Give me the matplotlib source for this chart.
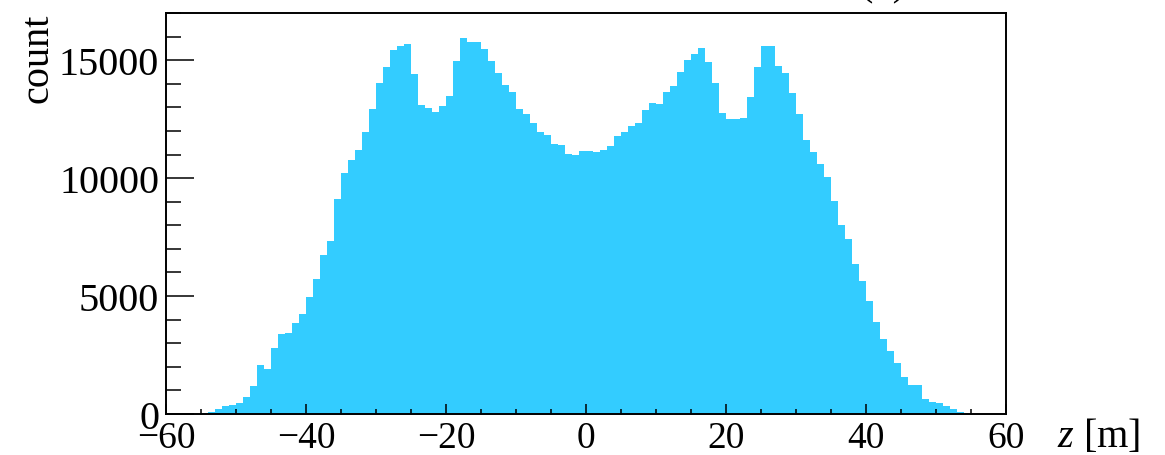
import numpy as np
import matplotlib
matplotlib.use("Agg")
import matplotlib.pyplot as plt
from matplotlib.ticker import MultipleLocator

plt.rcParams['font.family'] = ['Liberation Serif', 'DejaVu Serif']
plt.rcParams['mathtext.fontset'] = 'custom'
plt.rcParams['mathtext.rm'] = 'Liberation Serif'
plt.rcParams['mathtext.it'] = 'Liberation Serif:italic'

# histogram: 1 m bins from -60 to 60
bin_lo = -60
bin_hi = 60
counts = [
    0, 0, 0, 0, 0,                                              # -60 .. -56
    40, 90, 210, 340, 380, 470, 735, 1175, 2080, 1920,          # -55 .. -46
    2790, 3390, 3450, 3860, 4260, 4960, 5730, 6750, 7340, 9120,  # -45 .. -36
    10200, 10750, 11200, 11950, 12920, 14030, 14720, 15440, 15600, 15700,  # -35 .. -26
    14420, 13080, 12970, 12800, 13070, 13480, 14980, 15950, 15790, 15770,  # -25 .. -16
    15460, 14980, 14470, 13930, 13670, 12940, 12730, 12340, 11950, 11840,  # -15 .. -6
    11450, 11400, 11020, 10960, 11140,                          # -5 .. -1
    11170, 11110, 11200, 11380, 11790, 11950, 12220, 12330, 12870, 13180,  # 0 .. 9
    13140, 13670, 13890, 14510, 15020, 15260, 15500, 14920, 14040, 12770,  # 10 .. 19
    12510, 12510, 12560, 13460, 14710, 15580, 15580, 14760, 14470, 13600,  # 20 .. 29
    12730, 11620, 11100, 10590, 10040, 9040, 8020, 7420, 6360, 5630,       # 30 .. 39
    4790, 3920, 3180, 2690, 2160, 1560, 1245, 1230, 640, 520,             # 40 .. 49
    470, 340, 210, 70, 30,                                      # 50 .. 54
    0, 0, 0, 0, 0,                                              # 55 .. 59
]
edges = np.arange(bin_lo, bin_hi + 1, 1)

fig = plt.figure(figsize=(11.65, 4.56), dpi=100)
ax = fig.add_axes([0.1425, 0.0899, 0.721, 0.8794])

ax.stairs(counts, edges, fill=True, color='#33ccff', linewidth=0)

ax.set_xlim(-60, 60)
ax.set_ylim(0, 17000)
ax.xaxis.set_major_locator(MultipleLocator(20))
ax.xaxis.set_minor_locator(MultipleLocator(5))
ax.yaxis.set_major_locator(MultipleLocator(5000))
ax.yaxis.set_minor_locator(MultipleLocator(1000))

ax.tick_params(axis='x', which='major', direction='in', length=7, width=1.1,
               labelsize=27, pad=4.5)
ax.tick_params(axis='x', which='minor', direction='in', length=3.6, width=1.1)
ax.tick_params(axis='y', which='major', direction='in', length=20, width=1.1,
               labelsize=29, pad=5)
ax.tick_params(axis='y', which='minor', direction='in', length=11, width=1.1)
ax.tick_params(top=False, right=False, which='both')

for sp in ax.spines.values():
    sp.set_linewidth(1.4)

# axis titles placed ROOT-style at the ends of the axes
fig.text(0.033, 0.97, "count", rotation=90, ha='center', va='top', fontsize=29)
fig.text(0.979, 0.042, "$z$ [m]", ha='right', va='center', fontsize=29)
# panel label, cut off at the top edge as in the original
fig.text(0.758, 1.011, "(b)", ha='center', va='baseline', fontsize=29)

fig.savefig("out.png", dpi=100)
